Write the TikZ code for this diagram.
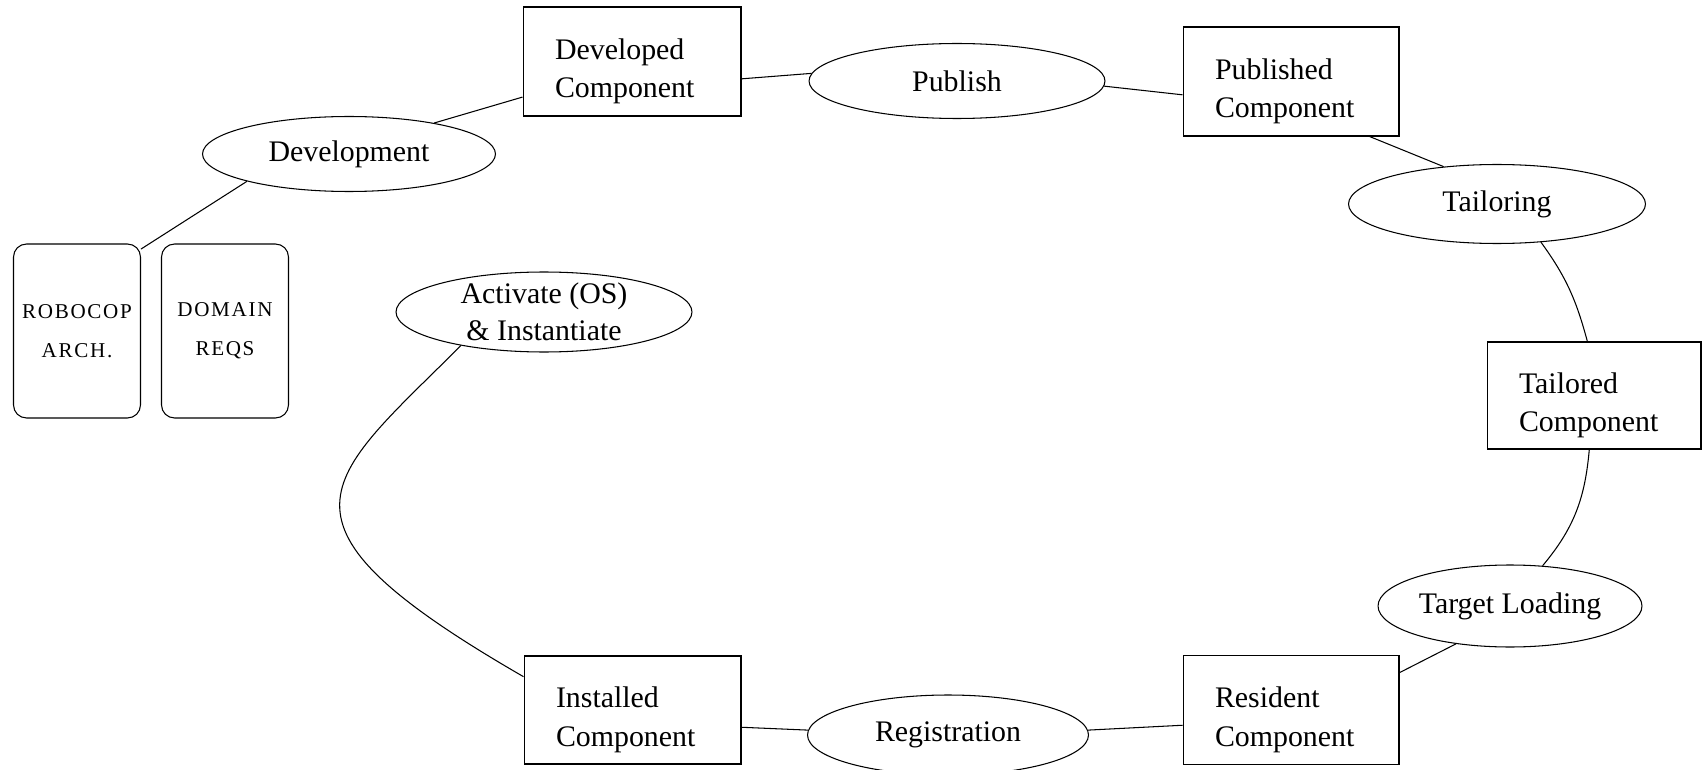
\documentclass[tikz,border=0pt]{standalone}
\usepackage{fontspec}
\setmainfont{Liberation Serif}
\newfontfamily\notefont[LetterSpace=8]{Liberation Serif}
\usetikzlibrary{shapes.geometric}

\begin{document}
\begin{tikzpicture}[x=0.02cm,y=0.02cm,line width=0.6pt,
        font=\fontsize{17}{21}\selectfont,
        comp/.style={draw,rectangle,inner xsep=0.64cm,inner ysep=2pt,text width=3.08cm,align=left,
                minimum height=2.18cm,font=\fontsize{17}{22}\selectfont,execute at begin node={\rule{0pt}{23pt}}},
        phase/.style={draw,ellipse,inner sep=0pt,minimum width=5.92cm,minimum height=1.58cm},
        doc/.style={draw,rounded corners=0.26cm,minimum width=2.54cm,minimum height=3.48cm,align=center,
                font=\notefont\fontsize{12}{22}\selectfont}]
        \useasboundingbox (0,0) rectangle (1707,-770);
        \node[comp] (devc) at (632,-61.5) {Developed\\Component};
        \node[phase,minimum height=1.5cm] (pub) at (957,-81) {Publish};
        \node[comp,text width=3.04cm] (pubc) at (1291,-81.5) {Published\\Component};
        \node[phase,minimum width=5.86cm,minimum height=1.5cm] (dev) at (349,-154) {Development};
        \node[phase,minimum width=5.94cm] (tail) at (1497,-204) {Tailoring};
        \node[comp,text width=3.0cm,minimum height=2.14cm] (tailc) at (1594,-395.5) {Tailored\\Component};
        \node[phase,minimum width=5.28cm,minimum height=1.64cm] (load) at (1510,-606) {Target Loading};
        \node[comp,text width=3.04cm] (resc) at (1291,-710) {Resident\\Component};
        \node[phase,minimum width=5.62cm,minimum height=1.6cm] (reg) at (948,-735) {Registration};
        \node[comp,text width=3.06cm,minimum height=2.16cm] (instc) at (632.5,-710) {Installed\\Component};
        \node[phase,minimum height=1.6cm,inner ysep=-6pt,align=center] (act) at (544,-312) {Activate (OS)\\\& Instantiate};
        \node[doc] (robo) at (77,-331) {ROBOCOP\\ARCH.};
        \node[doc] (dom) at (225,-331) {DOMAIN\\REQS};
        \draw (dev.20) -- (devc.198);
        \draw (dev.195) -- (robo.52);
        \draw (devc.-9) -- (pub.177);
        \draw (pub.-2) -- (pubc.187);
        \draw (pubc.-35) -- (tail.145);
        \draw (tail.-41) to[out=-54,in=105] (tailc.97);
        \draw (tailc.-95) to[out=-95,in=50] (load.51);
        \draw (load.215) -- (resc.19);
        \draw (resc.188) -- (reg.2);
        \draw (reg.178) -- (instc.-9);
        \draw (instc.163) .. controls +(150:312) and +(225:193) .. (act.202);
\end{tikzpicture}
\end{document}
